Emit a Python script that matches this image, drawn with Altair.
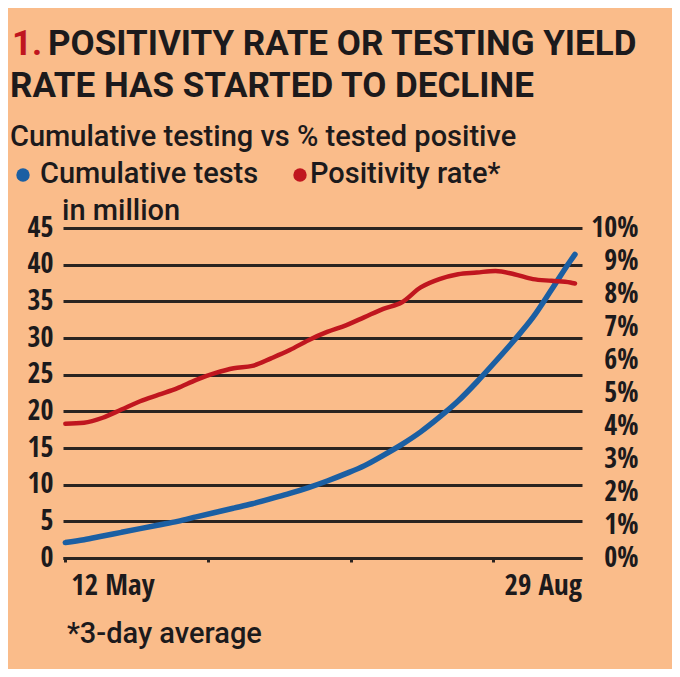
import altair as alt
import pandas as pd

# ---- data ----
days = [0, 4, 8, 12, 16, 20, 24, 28, 32, 36, 40, 44, 48, 52, 56, 60, 64, 68,
        72, 76, 80, 84, 88, 92, 96, 100, 104, 108, 109]
tests_million = [2.1, 2.5, 3.0, 3.5, 4.0, 4.5, 5.0, 5.6, 6.2, 6.8, 7.4, 8.1, 8.8,
                 9.6, 10.5, 11.5, 12.6, 14.0, 15.5, 17.2, 19.2, 21.4, 24.0, 26.8,
                 29.7, 32.8, 36.6, 40.5, 41.4]
positivity_pct = [4.07, 4.1, 4.25, 4.5, 4.75, 4.95, 5.15, 5.4, 5.6, 5.75, 5.82,
                  6.05, 6.3, 6.6, 6.85, 7.05, 7.3, 7.55, 7.75, 8.2, 8.45, 8.6,
                  8.65, 8.7, 8.6, 8.45, 8.4, 8.35, 8.32]
x_tick_days = [0, 30.5, 61, 91.5]
x_label_days = [0, 109]
x_label_text = ["12 May", "29 Aug"]
left_ticks = [0, 5, 10, 15, 20, 25, 30, 35, 40, 45]
right_ticks = [0, 1, 2, 3, 4, 5, 6, 7, 8, 9, 10]

BG = "#FABC8A"
BLUE = "#1B5FA3"
RED = "#C0161F"
GRID = "#2A2421"
INK = "#1C1A1C"
FONT = "Open Sans Condensed, Roboto Condensed, sans-serif"
TFONT = "Roboto, sans-serif"

df = pd.DataFrame({"day": days, "tests": tests_million, "pos": positivity_pct})

x_enc = alt.X("day:Q", scale=alt.Scale(domain=[-0.5, 110.5], nice=False, zero=False),
              axis=alt.Axis(values=x_tick_days, labels=False, title=None,
                            domain=True, domainColor=GRID, domainWidth=3,
                            ticks=True, tickSize=4, tickWidth=3, tickColor=GRID,
                            grid=False))

blue = alt.Chart(df).mark_line(color=BLUE, strokeWidth=5.5, strokeCap="round",
                               interpolate="monotone").encode(
    x=x_enc,
    y=alt.Y("tests:Q", scale=alt.Scale(domain=[0, 45], nice=False),
            axis=alt.Axis(values=left_ticks, orient="left", title=None, grid=True,
                          gridColor=GRID, gridWidth=3, domain=False, ticks=False,
                          labelFont=FONT, labelFontSize=28, labelColor=INK,
                          labelFontWeight="bold",
                          labelPadding=10, labelBaseline="middle")),
)

red = alt.Chart(df).mark_line(color=RED, strokeWidth=4.5, strokeCap="round",
                              interpolate="monotone").encode(
    x=x_enc,
    y=alt.Y("pos:Q", scale=alt.Scale(domain=[0, 10], nice=False),
            axis=alt.Axis(values=right_ticks, orient="right", title=None, grid=False,
                          domain=False, ticks=False, labelExpr="datum.value + '%'",
                          labelFont=FONT, labelFontSize=28, labelColor=INK,
                          labelFontWeight="bold",
                          labelAlign="right", labelPadding=56,
                          labelBaseline="middle")),
)

xl = pd.DataFrame({"day": x_label_days, "label": x_label_text})
xlab_left = alt.Chart(xl).transform_filter("datum.day == 0").mark_text(
    align="left", baseline="alphabetic", font=FONT, fontSize=29, fontWeight="bold",
    color=INK, dx=6
).encode(x="day:Q", y=alt.value(367), text="label:N")
xlab_right = alt.Chart(xl).transform_filter("datum.day > 0").mark_text(
    align="right", baseline="alphabetic", font=FONT, fontSize=29, fontWeight="bold",
    color=INK, dx=7
).encode(x="day:Q", y=alt.value(367), text="label:N")


def txt(s, x, y, size, color=INK, weight="normal", font=TFONT):
    return alt.Chart(pd.DataFrame({"t": [s]})).mark_text(
        align="left", baseline="alphabetic", font=font, fontSize=size,
        fontWeight=weight, color=color
    ).encode(x=alt.value(x), y=alt.value(y), text="t:N")


def dot(x, y, color):
    return alt.Chart(pd.DataFrame({"d": [0]})).mark_point(
        filled=True, shape="circle", size=180, color=color, opacity=1
    ).encode(x=alt.value(x), y=alt.value(y))


annotations = [
    txt("1.", -51, -173, 35, RED, "bold"),
    txt("POSITIVITY RATE OR TESTING YIELD", -15, -173, 35, INK, "bold"),
    txt("RATE HAS STARTED TO DECLINE", -53, -131, 35, INK, "bold"),
    txt("Cumulative testing vs % tested positive", -53, -82, 29, INK, 500),
    dot(-40, -53, BLUE),
    txt("Cumulative tests", -23, -45, 29, INK, 500),
    dot(237, -53, RED),
    txt("Positivity rate*", 247, -45, 29, INK, 500),
    txt("in million", -1, -8, 29, INK, 500),
    txt("*3-day average", 4, 415, 29, INK, 500),
]

chart = alt.layer(blue, red, xlab_left, xlab_right, *annotations).resolve_scale(
    y="independent"
).properties(
    width=519, height=330,
    padding={"left": 55, "top": 220, "right": 90, "bottom": 111},
    autosize=alt.AutoSizeParams(type="none"),
    background=BG,
).configure_view(stroke=None)

chart.save("out.html", embed_options={"renderer": "svg", "actions": False})
